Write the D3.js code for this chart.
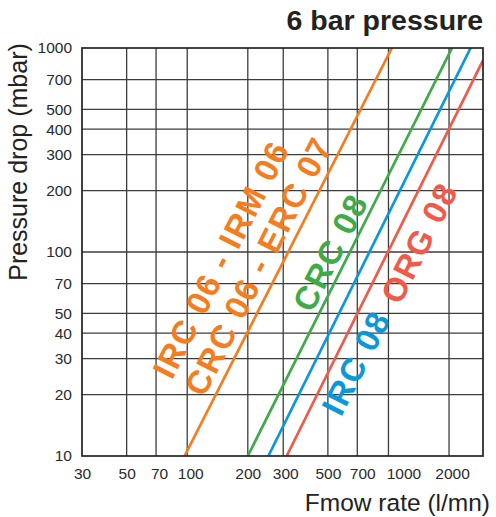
<!DOCTYPE html>
<html>
<head>
<meta charset="utf-8">
<script src="https://cdn.jsdelivr.net/npm/d3@7"></script>
<style>
body { margin: 0; background: #fff; }
text { font-family: "Liberation Sans", Arial, Helvetica, sans-serif; }
</style>
</head>
<body>
<script>
//Width and height
const w = 496;
const h = 517;

//Tick values
const xTicks = [30, 50, 70, 100, 200, 300, 500, 700, 1000, 2000];
const yTicks = [10, 20, 30, 40, 50, 70, 100, 200, 300, 400, 500, 700, 1000];

//Curves: flow (l/mn) and pressure drop (mbar) at both ends
const names = ["IRC 06 - CRC 06", "CRC 08", "IRC 08", "ORG 08"];
const colors = ["#f47d20", "#3fab48", "#0b98da", "#ef5a4a"];
const flowStart = [97, 200, 253, 312];
const flowEnd = [1040, 2070, 2560, 2950];
const pressStart = [10, 10, 10, 10];
const pressEnd = [1000, 1000, 1000, 870];

//Labels along the curves
const labelText = ["IRC 06 - IRM 06", "CRC 06 - ERC 07", "CRC 08", "IRC 08", "ORG 08"];
const labelColor = ["#f47d20", "#f47d20", "#3fab48", "#0b98da", "#ef5a4a"];
const labelFlow = [84, 121, 417, 581, 1141];
const labelPress = [23.4, 19.2, 49.7, 15.4, 54.4];

var margin = {left: 82, right: 13, top: 48, bottom: 61};

var x = d3.scaleLog()
	.domain([30, 2950])
	.range([margin.left, w - margin.right]);

var y = d3.scaleLog()
	.domain([10, 1000])
	.range([h - margin.bottom, margin.top]);

//Create SVG element
var svg = d3.select("body")
	.append("svg")
	.attr("width", w)
	.attr("height", h);

//grid
svg.append("g")
	.selectAll("line")
	.data(xTicks.slice(1))
	.enter()
	.append("line")
	.attr("x1", d => x(d))
	.attr("x2", d => x(d))
	.attr("y1", y(10))
	.attr("y2", y(1000))
	.attr("stroke", "#3c3c3c")
	.attr("stroke-width", 1.3);

svg.append("g")
	.selectAll("line")
	.data(yTicks.slice(1, -1))
	.enter()
	.append("line")
	.attr("x1", x(30))
	.attr("x2", x(2950))
	.attr("y1", d => y(d))
	.attr("y2", d => y(d))
	.attr("stroke", "#3c3c3c")
	.attr("stroke-width", 1.3);

//curves, clipped to the plot
svg.append("clipPath")
	.attr("id", "plot")
	.append("rect")
	.attr("x", x(30))
	.attr("y", y(1000))
	.attr("width", x(2950) - x(30))
	.attr("height", y(10) - y(1000));

svg.append("g")
	.attr("clip-path", "url(#plot)")
	.selectAll("line")
	.data(names)
	.enter()
	.append("line")
	.attr("x1", (d, i) => x(flowStart[i]))
	.attr("y1", (d, i) => y(pressStart[i]))
	.attr("x2", (d, i) => x(flowEnd[i]))
	.attr("y2", (d, i) => y(pressEnd[i]))
	.attr("stroke", (d, i) => colors[i])
	.attr("stroke-width", 2.7);

//frame
svg.append("rect")
	.attr("x", x(30))
	.attr("y", y(1000))
	.attr("width", x(2950) - x(30))
	.attr("height", y(10) - y(1000))
	.attr("fill", "none")
	.attr("stroke", "#222")
	.attr("stroke-width", 1.7);

//axes (labels only)
var xAxis = d3.axisBottom(x)
	.tickValues(xTicks)
	.tickFormat(d3.format("d"))
	.tickSize(0)
	.tickPadding(12);

var yAxis = d3.axisLeft(y)
	.tickValues(yTicks)
	.tickFormat(d3.format("d"))
	.tickSize(0)
	.tickPadding(10);

// the original nudges a few x labels to the right so they don't collide
var nudge = {70: 3, 100: 3, 300: 2, 700: 5, 1000: 15, 2000: 3};

svg.append("g")
	.attr("transform", "translate(0," + y(10) + ")")
	.call(xAxis)
	.call(g => g.select(".domain").remove())
	.selectAll("text")
	.attr("dx", d => nudge[d] || 0)
	.attr("font-size", 15.5)
	.attr("fill", "#2a2a2a");

svg.append("g")
	.attr("transform", "translate(" + x(30) + ",0)")
	.call(yAxis)
	.call(g => g.select(".domain").remove())
	.selectAll("text")
	.attr("font-size", 15.5)
	.attr("fill", "#2a2a2a");

//curve labels
svg.append("g")
	.selectAll("text")
	.data(labelText)
	.enter()
	.append("text")
	.attr("transform", (d, i) => "translate(" + x(labelFlow[i]) + "," + y(labelPress[i]) + ") rotate(-63)")
	.attr("font-size", 33)
	.attr("font-weight", "bold")
	.attr("letter-spacing", 1.5)
	.attr("fill", (d, i) => labelColor[i])
	.text(d => d);

//titles
svg.append("text")
	.attr("x", 483)
	.attr("y", 30)
	.attr("text-anchor", "end")
	.attr("font-size", 28.5)
	.attr("font-weight", "bold")
	.attr("fill", "#222")
	.text("6 bar pressure");

svg.append("text")
	.attr("x", 490)
	.attr("y", 511)
	.attr("text-anchor", "end")
	.attr("font-size", 24.5)
	.attr("fill", "#222")
	.text("Fmow rate (l/mn)");

svg.append("text")
	.attr("transform", "translate(27,162) rotate(-90)")
	.attr("text-anchor", "middle")
	.attr("font-size", 25)
	.attr("fill", "#222")
	.text("Pressure drop (mbar)");
</script>
</body>
</html>
